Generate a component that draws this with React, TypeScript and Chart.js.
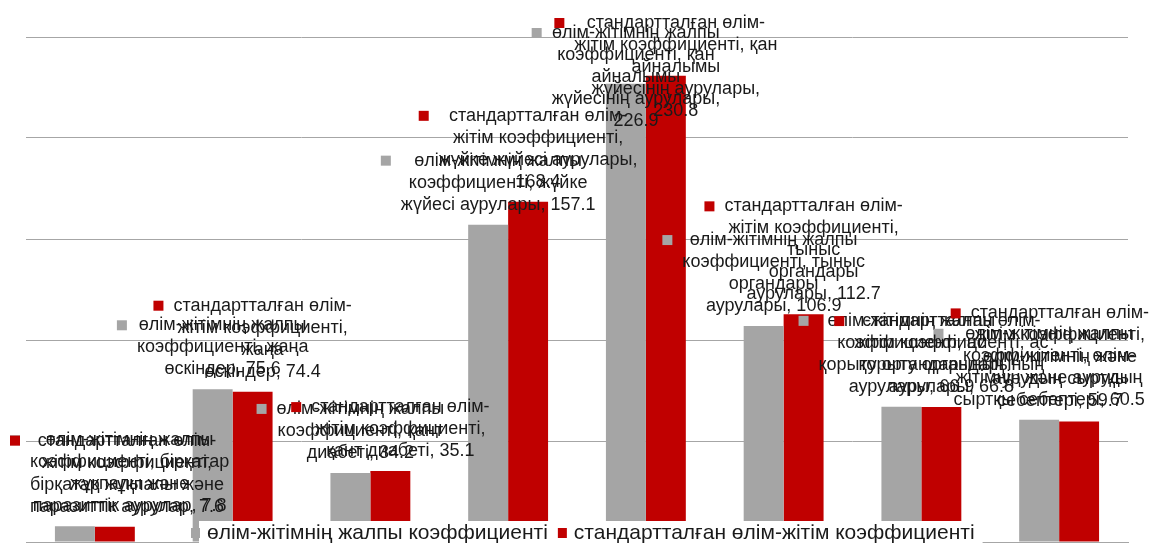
import React, { useEffect, useRef } from "react";
import { Chart, registerables } from "chart.js";

Chart.register(...registerables);

const categories = [
  "бірқатар жұқпалы және\nпаразиттік аурулар",
  "жаңа\nөскіндер",
  "қант диабеті",
  "жүйке жүйесі аурулары",
  "қан айналымы\nжүйесінің аурулары",
  "тыныс\nоргандары\nаурулары",
  "ас қорыту органдарының аурулары",
  "өлім-жітімнің және аурудың сыртқы себептері",
];
const crudeRates = [7.8, 75.6, 34.2, 157.1, 226.9, 106.9, 66.9, 60.5];
const standardizedRates = [7.6, 74.4, 35.1, 168.4, 230.8, 112.7, 66.8, 59.7];
const seriesNames = [
  "өлім-жітімнің жалпы коэффициенті",
  "стандартталған өлім-жітім коэффициенті",
];
const seriesColors = ["#a5a5a5", "#c00000"];
const yMax = 250;
const yStep = 50;

const FONT = "'Liberation Sans', Arial, sans-serif";
const TEXT_COLOR = "#1a1a1a";

function wrap(ctx: CanvasRenderingContext2D, text: string, maxW: number): string[] {
  const out: string[] = [];
  for (const para of text.split("\n")) {
    const tokens = para.match(/[^\s-]*-|[^\s-]+\s*|\s+/g) || [];
    let cur = "";
    for (const t of tokens) {
      const test = cur + t;
      if (cur && ctx.measureText(test.trimEnd()).width > maxW) {
        out.push(cur.trimEnd());
        cur = t.trimStart();
      } else {
        cur = test;
      }
    }
    if (cur.trim()) out.push(cur.trimEnd());
  }
  return out;
}

const labelPlugin = {
  id: "barLabels",
  afterDatasetsDraw(chart: any) {
    const ctx = chart.ctx as CanvasRenderingContext2D;
    ctx.save();
    ctx.font = `18px ${FONT}`;
    ctx.textBaseline = "middle";
    ctx.textAlign = "center";
    const lineH = 22;
    const wraps = [210, 206];
    chart.data.datasets.forEach((ds: any, di: number) => {
      const meta = chart.getDatasetMeta(di);
      meta.data.forEach((bar: any, i: number) => {
        const v = ds.data[i] as number;
        const text = `${seriesNames[di]}, ${categories[i]}, ${v.toFixed(1)}`;
        const lines = wrap(ctx, text, wraps[di]);
        const maxW = Math.max(...lines.map((l) => ctx.measureText(l).width));
        const boxW = 20 + maxW;
        let left = bar.x - boxW / 2;
        left = Math.max(10, Math.min(chart.width - 4 - boxW, left));
        let firstY = bar.y - 20 - (lines.length - 1) * lineH;
        firstY = Math.max(di === 0 ? 33 : 23, firstY);
        ctx.fillStyle = seriesColors[di];
        ctx.fillRect(left, firstY - 5, 10, 10);
        ctx.fillStyle = TEXT_COLOR;
        const cx = left + 20 + maxW / 2;
        lines.forEach((l, k) => ctx.fillText(l, cx, firstY + k * lineH));
      });
    });
    ctx.restore();
  },
  afterDraw(chart: any) {
    const ctx = chart.ctx as CanvasRenderingContext2D;
    ctx.save();
    ctx.font = `21px ${FONT}`;
    ctx.textBaseline = "middle";
    ctx.textAlign = "left";
    const y = 533;
    const w0 = ctx.measureText(seriesNames[0]).width;
    const w1 = ctx.measureText(seriesNames[1]).width;
    const x0 = 191;
    const t0 = x0 + 16;
    const x1 = t0 + w0 + 10;
    const t1 = x1 + 16;
    ctx.fillStyle = "#ffffff";
    ctx.fillRect(x0 + 8, y - 12, t1 + w1 - x0, 30);
    ctx.fillStyle = seriesColors[0];
    ctx.fillRect(x0, y - 5, 9, 10);
    ctx.fillStyle = seriesColors[1];
    ctx.fillRect(x1, y - 5, 9, 10);
    ctx.fillStyle = TEXT_COLOR;
    ctx.fillText(seriesNames[0], t0, y);
    ctx.fillText(seriesNames[1], t1, y);
    ctx.restore();
  },
};

export default function App() {
  const ref = useRef<HTMLCanvasElement | null>(null);
  useEffect(() => {
    document.body.style.margin = "0";
    const canvas = ref.current!;
    const chart = new Chart(canvas, {
      type: "bar",
      data: {
        labels: categories.map((c) => c.replace(/\n/g, " ")),
        datasets: [
          {
            label: seriesNames[0],
            data: crudeRates,
            backgroundColor: seriesColors[0],
            categoryPercentage: 0.58,
            barPercentage: 1.0,
          },
          {
            label: seriesNames[1],
            data: standardizedRates,
            backgroundColor: seriesColors[1],
            categoryPercentage: 0.58,
            barPercentage: 1.0,
          },
        ],
      },
      options: {
        responsive: false,
        animation: false,
        layout: { padding: { left: 26, right: 25, top: 37, bottom: 1 } },
        plugins: { legend: { display: false }, tooltip: { enabled: false } },
        scales: {
          x: {
            ticks: { display: false },
            grid: { display: false, drawTicks: false },
            border: { display: true, color: "#a6a6a6", width: 1 },
            afterFit: (s: any) => {
              s.height = 0;
            },
          },
          y: {
            min: 0,
            max: yMax,
            ticks: { display: false, stepSize: yStep },
            grid: { color: "#a6a6a6", lineWidth: 1, drawTicks: false },
            border: { display: false },
            afterFit: (s: any) => {
              s.width = 0;
            },
          },
        },
      },
      plugins: [labelPlugin],
    });
    return () => chart.destroy();
  }, []);
  return (
    <div style={{ width: 1153, height: 543 }}>
      <canvas ref={ref} width={1153} height={543} style={{ display: "block" }} />
    </div>
  );
}
